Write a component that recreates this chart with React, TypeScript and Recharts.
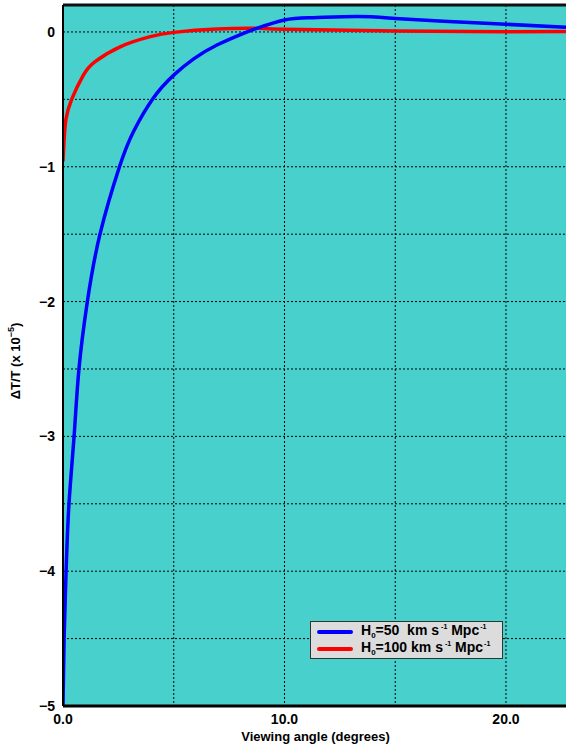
import React from 'react';
import { LineChart, Line, XAxis, YAxis, CartesianGrid, ReferenceLine } from 'recharts';

// H0 = 50 curve
const blueAngle = [0, 0.05, 0.14, 0.27, 0.5, 0.72, 1.1, 1.67, 2.55, 3.18, 4.08, 5.0, 5.9, 6.95, 8.15, 8.75, 10, 11.3, 13.3, 15, 17.4, 20, 22.8];
const blueDT = [-5, -4.5, -4.0, -3.5, -3.0, -2.5, -2.0, -1.5, -1.0, -0.74, -0.49, -0.32, -0.2, -0.097, -0.01, 0.027, 0.089, 0.106, 0.114, 0.1, 0.077, 0.057, 0.035];

// H0 = 100 curve
const redAngle = [0, 0.05, 0.13, 0.39, 0.92, 1.45, 2.58, 3.94, 5, 6.95, 8.75, 10, 15, 20, 22.8];
const redDT = [-0.96, -0.8, -0.65, -0.5, -0.32, -0.22, -0.11, -0.035, -0.003, 0.022, 0.027, 0.02, 0.007, 0.002, 0.004];

const xTicks = [0, 5, 10, 15, 20];
const xLabels = ['0.0', '', '10.0', '', '20.0'];
const yTicks = [-5, -4.5, -4, -3.5, -3, -2.5, -2, -1.5, -1, -0.5, 0];
const yLabels = ['−5', '', '−4', '', '−3', '', '−2', '', '−1', '', '0'];

const blueData = blueAngle.map((a, i) => ({ angle: a, dt: blueDT[i] }));
const redData = redAngle.map((a, i) => ({ angle: a, dt: redDT[i] }));

const font = '"Liberation Sans", Arial, sans-serif';

const YLabel = () => (
  <text
    x={20}
    y={361}
    transform="rotate(-90 20 361)"
    textAnchor="middle"
    fontFamily={font}
    fontWeight="bold"
    fontSize={13}
    fill="#000"
  >
    ΔT/T (x 10
    <tspan dy={-6} fontSize={9}>−5</tspan>
    <tspan dy={6}>)</tspan>
  </text>
);

const LegendBox = () => {
  const row = (color: string, num: string) => (
    <div style={{ display: 'flex', alignItems: 'center', height: 17 }}>
      <div style={{ width: 36, height: 4, background: color, borderRadius: 2, marginRight: 8 }} />
      <span style={{ whiteSpace: 'pre' }}>
        H<sub style={{ fontSize: 8 }}>0</sub>={num} km s<sup style={{ fontSize: 7, marginLeft: 2 }}>-1</sup> Mpc<sup style={{ fontSize: 7, marginLeft: 1 }}>-1</sup>
      </span>
    </div>
  );
  return (
    <div
      style={{
        position: 'absolute',
        left: 310,
        top: 621,
        width: 185,
        height: 34,
        padding: '1px 0 1px 6px',
        background: '#dcdcdc',
        border: '1.5px solid #333',
        fontFamily: font,
        fontWeight: 'bold',
        fontSize: 14,
        lineHeight: '14px',
        color: '#000',
      }}
    >
      {row('#0000ff', '50 ')}
      {row('#ff0000', '100')}
    </div>
  );
};

export default function App() {
  return (
    <div style={{ position: 'absolute', left: 0, top: 0, width: 566, height: 745, overflow: 'hidden', background: '#fff' }}>
      <LineChart width={580} height={745} margin={{ top: 5, right: 12, bottom: 0, left: 0 }}>
        <CartesianGrid fill="#48d1cc" stroke="#000" strokeDasharray="2 2" strokeWidth={1} />
        <XAxis
          type="number"
          dataKey="angle"
          domain={[0, 22.8]}
          allowDataOverflow
          ticks={xTicks}
          tickFormatter={(v: number) => xLabels[xTicks.indexOf(v)] ?? ''}
          tickLine={false}
          axisLine={{ stroke: '#000', strokeWidth: 3 }}
          height={39}
          tick={{ fontFamily: font, fontWeight: 'bold', fontSize: 14, fill: '#000' }}
          label={{
            value: 'Viewing angle (degrees)',
            position: 'insideBottom',
            offset: 4,
            style: { fontFamily: font, fontWeight: 'bold', fontSize: 13, fill: '#000' },
          }}
        />
        <YAxis
          type="number"
          domain={[-5, 0.2]}
          allowDataOverflow
          ticks={yTicks}
          tickFormatter={(v: number) => yLabels[yTicks.indexOf(v)] ?? ''}
          tickLine={false}
          axisLine={{ stroke: '#000', strokeWidth: 2 }}
          width={63}
          tick={{ fontFamily: font, fontWeight: 'bold', fontSize: 14, fill: '#000' }}
          label={<YLabel />}
        />
        <ReferenceLine y={0.2} stroke="#111" strokeWidth={3} />
        <Line
          data={redData}
          dataKey="dt"
          type="natural"
          stroke="#ff0000"
          strokeWidth={3.5}
          dot={false}
          isAnimationActive={false}
        />
        <Line
          data={blueData}
          dataKey="dt"
          type="natural"
          stroke="#0000ff"
          strokeWidth={3.5}
          dot={false}
          isAnimationActive={false}
        />
      </LineChart>
      <LegendBox />
    </div>
  );
}
